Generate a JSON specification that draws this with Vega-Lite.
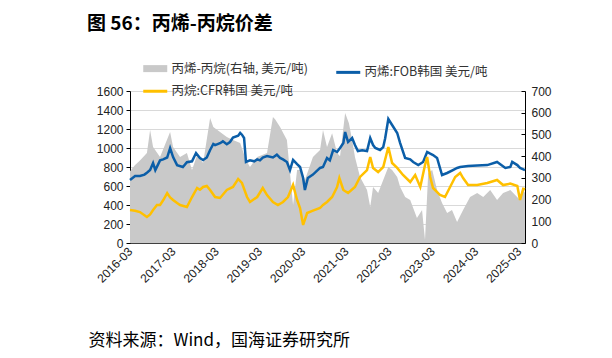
{
  "$schema": "https://vega.github.io/schema/vega-lite/v6.json",
  "width": 395,
  "height": 152,
  "autosize": {"type": "none"},
  "padding": {"left": 130, "top": 91, "right": 87, "bottom": 115},
  "background": "white",
  "title": {
    "text": "图 56：丙烯-丙烷价差",
    "anchor": "start",
    "frame": "group",
    "dx": -43,
    "offset": 28,
    "font": "Noto Sans CJK SC",
    "fontSize": 19,
    "fontWeight": "bold",
    "color": "#000000"
  },
  "config": {
    "view": {"stroke": null},
    "font": "Liberation Sans"
  },
  "datasets": {
    "lines": [
      {"d": "2016-03-01", "s": "丙烯:FOB韩国 美元/吨", "v": 663},
      {"d": "2016-04-13", "s": "丙烯:FOB韩国 美元/吨", "v": 705},
      {"d": "2016-05-24", "s": "丙烯:FOB韩国 美元/吨", "v": 705},
      {"d": "2016-07-01", "s": "丙烯:FOB韩国 美元/吨", "v": 720},
      {"d": "2016-07-22", "s": "丙烯:FOB韩国 美元/吨", "v": 740},
      {"d": "2016-08-18", "s": "丙烯:FOB韩国 美元/吨", "v": 768},
      {"d": "2016-09-12", "s": "丙烯:FOB韩国 美元/吨", "v": 842},
      {"d": "2016-10-01", "s": "丙烯:FOB韩国 美元/吨", "v": 768},
      {"d": "2016-11-10", "s": "丙烯:FOB韩国 美元/吨", "v": 870},
      {"d": "2016-12-06", "s": "丙烯:FOB韩国 美元/吨", "v": 880},
      {"d": "2017-01-09", "s": "丙烯:FOB韩国 美元/吨", "v": 900},
      {"d": "2017-02-03", "s": "丙烯:FOB韩国 美元/吨", "v": 1000},
      {"d": "2017-02-28", "s": "丙烯:FOB韩国 美元/吨", "v": 905},
      {"d": "2017-04-03", "s": "丙烯:FOB韩国 美元/吨", "v": 820},
      {"d": "2017-05-22", "s": "丙烯:FOB韩国 美元/吨", "v": 800},
      {"d": "2017-06-25", "s": "丙烯:FOB韩国 美元/吨", "v": 850},
      {"d": "2017-08-07", "s": "丙烯:FOB韩国 美元/吨", "v": 860},
      {"d": "2017-09-10", "s": "丙烯:FOB韩国 美元/吨", "v": 947},
      {"d": "2017-10-13", "s": "丙烯:FOB韩国 美元/吨", "v": 895},
      {"d": "2017-11-09", "s": "丙烯:FOB韩国 美元/吨", "v": 874},
      {"d": "2017-12-10", "s": "丙烯:FOB韩国 美元/吨", "v": 900},
      {"d": "2018-01-07", "s": "丙烯:FOB韩国 美元/吨", "v": 979},
      {"d": "2018-02-03", "s": "丙烯:FOB韩国 美元/吨", "v": 1042},
      {"d": "2018-02-18", "s": "丙烯:FOB韩国 美元/吨", "v": 1030},
      {"d": "2018-04-01", "s": "丙烯:FOB韩国 美元/吨", "v": 1050},
      {"d": "2018-04-25", "s": "丙烯:FOB韩国 美元/吨", "v": 1070},
      {"d": "2018-05-28", "s": "丙烯:FOB韩国 美元/吨", "v": 1040},
      {"d": "2018-06-24", "s": "丙烯:FOB韩国 美元/吨", "v": 1063},
      {"d": "2018-07-19", "s": "丙烯:FOB韩国 美元/吨", "v": 1110},
      {"d": "2018-09-01", "s": "丙烯:FOB韩国 美元/吨", "v": 1130},
      {"d": "2018-09-18", "s": "丙烯:FOB韩国 美元/吨", "v": 1158},
      {"d": "2018-10-03", "s": "丙烯:FOB韩国 美元/吨", "v": 1140},
      {"d": "2018-10-21", "s": "丙烯:FOB韩国 美元/吨", "v": 1105},
      {"d": "2018-11-06", "s": "丙烯:FOB韩国 美元/吨", "v": 853},
      {"d": "2018-12-10", "s": "丙烯:FOB韩国 美元/吨", "v": 870},
      {"d": "2019-01-15", "s": "丙烯:FOB韩国 美元/吨", "v": 860},
      {"d": "2019-02-09", "s": "丙烯:FOB韩国 美元/吨", "v": 880},
      {"d": "2019-03-04", "s": "丙烯:FOB韩国 美元/吨", "v": 870},
      {"d": "2019-03-28", "s": "丙烯:FOB韩国 美元/吨", "v": 900},
      {"d": "2019-05-03", "s": "丙烯:FOB韩国 美元/吨", "v": 915},
      {"d": "2019-06-22", "s": "丙烯:FOB韩国 美元/吨", "v": 900},
      {"d": "2019-07-25", "s": "丙烯:FOB韩国 美元/吨", "v": 930},
      {"d": "2019-08-21", "s": "丙烯:FOB韩国 美元/吨", "v": 895},
      {"d": "2019-09-15", "s": "丙烯:FOB韩国 美元/吨", "v": 880},
      {"d": "2019-10-18", "s": "丙烯:FOB韩国 美元/吨", "v": 853},
      {"d": "2019-11-13", "s": "丙烯:FOB韩国 美元/吨", "v": 768},
      {"d": "2019-12-09", "s": "丙烯:FOB韩国 美元/吨", "v": 874},
      {"d": "2020-01-12", "s": "丙烯:FOB韩国 美元/吨", "v": 830},
      {"d": "2020-02-06", "s": "丙烯:FOB韩国 美元/吨", "v": 800},
      {"d": "2020-03-03", "s": "丙烯:FOB韩国 美元/吨", "v": 684},
      {"d": "2020-03-18", "s": "丙烯:FOB韩国 美元/吨", "v": 558},
      {"d": "2020-04-12", "s": "丙烯:FOB韩国 美元/吨", "v": 684},
      {"d": "2020-05-25", "s": "丙烯:FOB韩国 美元/吨", "v": 720},
      {"d": "2020-07-24", "s": "丙烯:FOB韩国 美元/吨", "v": 790},
      {"d": "2020-08-18", "s": "丙烯:FOB韩国 美元/吨", "v": 800},
      {"d": "2020-09-21", "s": "丙烯:FOB韩国 美元/吨", "v": 895},
      {"d": "2020-10-15", "s": "丙烯:FOB韩国 美元/吨", "v": 870},
      {"d": "2020-11-12", "s": "丙烯:FOB韩国 美元/吨", "v": 979},
      {"d": "2020-12-15", "s": "丙烯:FOB韩国 美元/吨", "v": 958},
      {"d": "2021-01-09", "s": "丙烯:FOB韩国 美元/吨", "v": 1000},
      {"d": "2021-02-06", "s": "丙烯:FOB韩国 美元/吨", "v": 1052},
      {"d": "2021-02-21", "s": "丙烯:FOB韩国 美元/吨", "v": 1168},
      {"d": "2021-03-18", "s": "丙烯:FOB韩国 美元/吨", "v": 1063},
      {"d": "2021-04-21", "s": "丙烯:FOB韩国 美元/吨", "v": 1105},
      {"d": "2021-05-15", "s": "丙烯:FOB韩国 美元/吨", "v": 1031},
      {"d": "2021-06-09", "s": "丙烯:FOB韩国 美元/吨", "v": 968},
      {"d": "2021-07-15", "s": "丙烯:FOB韩国 美元/吨", "v": 975},
      {"d": "2021-08-25", "s": "丙烯:FOB韩国 美元/吨", "v": 968},
      {"d": "2021-09-21", "s": "丙烯:FOB韩国 美元/吨", "v": 1105},
      {"d": "2021-10-15", "s": "丙烯:FOB韩国 美元/吨", "v": 1031},
      {"d": "2021-11-03", "s": "丙烯:FOB韩国 美元/吨", "v": 1000},
      {"d": "2021-12-13", "s": "丙烯:FOB韩国 美元/吨", "v": 979},
      {"d": "2022-01-09", "s": "丙烯:FOB韩国 美元/吨", "v": 1010},
      {"d": "2022-01-25", "s": "丙烯:FOB韩国 美元/吨", "v": 1100},
      {"d": "2022-02-21", "s": "丙烯:FOB韩国 美元/吨", "v": 1305},
      {"d": "2022-03-25", "s": "丙烯:FOB韩国 美元/吨", "v": 1242},
      {"d": "2022-05-07", "s": "丙烯:FOB韩国 美元/吨", "v": 1158},
      {"d": "2022-06-01", "s": "丙烯:FOB韩国 美元/吨", "v": 1052},
      {"d": "2022-07-13", "s": "丙烯:FOB韩国 美元/吨", "v": 895},
      {"d": "2022-08-25", "s": "丙烯:FOB韩国 美元/吨", "v": 880},
      {"d": "2022-09-19", "s": "丙烯:FOB韩国 美元/吨", "v": 853},
      {"d": "2022-11-01", "s": "丙烯:FOB韩国 美元/吨", "v": 821},
      {"d": "2022-12-12", "s": "丙烯:FOB韩国 美元/吨", "v": 853},
      {"d": "2023-01-15", "s": "丙烯:FOB韩国 美元/吨", "v": 958},
      {"d": "2023-02-10", "s": "丙烯:FOB韩国 美元/吨", "v": 940},
      {"d": "2023-03-06", "s": "丙烯:FOB韩国 美元/吨", "v": 926},
      {"d": "2023-04-09", "s": "丙烯:FOB韩国 美元/吨", "v": 895},
      {"d": "2023-05-21", "s": "丙烯:FOB韩国 美元/吨", "v": 716},
      {"d": "2023-07-03", "s": "丙烯:FOB韩国 美元/吨", "v": 737},
      {"d": "2023-08-21", "s": "丙烯:FOB韩国 美元/吨", "v": 768},
      {"d": "2023-09-25", "s": "丙烯:FOB韩国 美元/吨", "v": 790},
      {"d": "2023-10-21", "s": "丙烯:FOB韩国 美元/吨", "v": 800},
      {"d": "2023-12-27", "s": "丙烯:FOB韩国 美元/吨", "v": 810},
      {"d": "2024-03-13", "s": "丙烯:FOB韩国 美元/吨", "v": 815},
      {"d": "2024-06-06", "s": "丙烯:FOB韩国 美元/吨", "v": 820},
      {"d": "2024-08-28", "s": "丙烯:FOB韩国 美元/吨", "v": 853},
      {"d": "2024-09-24", "s": "丙烯:FOB韩国 美元/吨", "v": 830},
      {"d": "2024-11-06", "s": "丙烯:FOB韩国 美元/吨", "v": 790},
      {"d": "2024-12-18", "s": "丙烯:FOB韩国 美元/吨", "v": 800},
      {"d": "2025-01-03", "s": "丙烯:FOB韩国 美元/吨", "v": 853},
      {"d": "2025-02-15", "s": "丙烯:FOB韩国 美元/吨", "v": 820},
      {"d": "2025-03-10", "s": "丙烯:FOB韩国 美元/吨", "v": 790},
      {"d": "2025-04-21", "s": "丙烯:FOB韩国 美元/吨", "v": 768},
      {"d": "2016-03-01", "s": "丙烷:CFR韩国 美元/吨", "v": 347},
      {"d": "2016-04-13", "s": "丙烷:CFR韩国 美元/吨", "v": 340},
      {"d": "2016-05-24", "s": "丙烷:CFR韩国 美元/吨", "v": 326},
      {"d": "2016-07-22", "s": "丙烷:CFR韩国 美元/吨", "v": 274},
      {"d": "2016-08-18", "s": "丙烷:CFR韩国 美元/吨", "v": 300},
      {"d": "2016-09-12", "s": "丙烷:CFR韩国 美元/吨", "v": 347},
      {"d": "2016-10-15", "s": "丙烷:CFR韩国 美元/吨", "v": 400},
      {"d": "2016-11-10", "s": "丙烷:CFR韩国 美元/吨", "v": 400},
      {"d": "2016-12-06", "s": "丙烷:CFR韩国 美元/吨", "v": 450},
      {"d": "2017-01-09", "s": "丙烷:CFR韩国 美元/吨", "v": 526},
      {"d": "2017-02-03", "s": "丙烷:CFR韩国 美元/吨", "v": 480},
      {"d": "2017-02-28", "s": "丙烷:CFR韩国 美元/吨", "v": 453},
      {"d": "2017-04-03", "s": "丙烷:CFR韩国 美元/吨", "v": 420},
      {"d": "2017-04-28", "s": "丙烷:CFR韩国 美元/吨", "v": 400},
      {"d": "2017-06-25", "s": "丙烷:CFR韩国 美元/吨", "v": 379},
      {"d": "2017-08-07", "s": "丙烷:CFR韩国 美元/吨", "v": 484},
      {"d": "2017-09-19", "s": "丙烷:CFR韩国 美元/吨", "v": 579},
      {"d": "2017-10-13", "s": "丙烷:CFR韩国 美元/吨", "v": 560},
      {"d": "2017-11-09", "s": "丙烷:CFR韩国 美元/吨", "v": 590},
      {"d": "2017-12-10", "s": "丙烷:CFR韩国 美元/吨", "v": 600},
      {"d": "2018-01-07", "s": "丙烷:CFR韩国 美元/吨", "v": 558},
      {"d": "2018-02-18", "s": "丙烷:CFR韩国 美元/吨", "v": 484},
      {"d": "2018-04-01", "s": "丙烷:CFR韩国 美元/吨", "v": 474},
      {"d": "2018-05-28", "s": "丙烷:CFR韩国 美元/吨", "v": 558},
      {"d": "2018-07-19", "s": "丙烷:CFR韩国 美元/吨", "v": 590},
      {"d": "2018-09-01", "s": "丙烷:CFR韩国 美元/吨", "v": 674},
      {"d": "2018-10-03", "s": "丙烷:CFR韩国 美元/吨", "v": 632},
      {"d": "2018-11-15", "s": "丙烷:CFR韩国 美元/吨", "v": 484},
      {"d": "2018-12-10", "s": "丙烷:CFR韩国 美元/吨", "v": 432},
      {"d": "2019-02-09", "s": "丙烷:CFR韩国 美元/吨", "v": 484},
      {"d": "2019-03-28", "s": "丙烷:CFR韩国 美元/吨", "v": 579},
      {"d": "2019-05-03", "s": "丙烷:CFR韩国 美元/吨", "v": 505},
      {"d": "2019-06-22", "s": "丙烷:CFR韩国 美元/吨", "v": 432},
      {"d": "2019-08-03", "s": "丙烷:CFR韩国 美元/吨", "v": 400},
      {"d": "2019-09-15", "s": "丙烷:CFR韩国 美元/吨", "v": 432},
      {"d": "2019-10-27", "s": "丙烷:CFR韩国 美元/吨", "v": 484},
      {"d": "2019-12-09", "s": "丙烷:CFR韩国 美元/吨", "v": 611},
      {"d": "2020-01-12", "s": "丙烷:CFR韩国 美元/吨", "v": 453},
      {"d": "2020-02-06", "s": "丙烷:CFR韩国 美元/吨", "v": 368},
      {"d": "2020-03-03", "s": "丙烷:CFR韩国 美元/吨", "v": 190},
      {"d": "2020-04-06", "s": "丙烷:CFR韩国 美元/吨", "v": 316},
      {"d": "2020-05-25", "s": "丙烷:CFR韩国 美元/吨", "v": 340},
      {"d": "2020-07-24", "s": "丙烷:CFR韩国 美元/吨", "v": 368},
      {"d": "2020-08-18", "s": "丙烷:CFR韩国 美元/吨", "v": 400},
      {"d": "2020-09-21", "s": "丙烷:CFR韩国 美元/吨", "v": 432},
      {"d": "2020-11-03", "s": "丙烷:CFR韩国 美元/吨", "v": 484},
      {"d": "2020-12-15", "s": "丙烷:CFR韩国 美元/吨", "v": 590},
      {"d": "2021-01-03", "s": "丙烷:CFR韩国 美元/吨", "v": 684},
      {"d": "2021-02-06", "s": "丙烷:CFR韩国 美元/吨", "v": 558},
      {"d": "2021-03-18", "s": "丙烷:CFR韩国 美元/吨", "v": 526},
      {"d": "2021-05-15", "s": "丙烷:CFR韩国 美元/吨", "v": 590},
      {"d": "2021-06-27", "s": "丙烷:CFR韩国 美元/吨", "v": 695},
      {"d": "2021-08-25", "s": "丙烷:CFR韩国 美元/吨", "v": 768},
      {"d": "2021-09-21", "s": "丙烷:CFR韩国 美元/吨", "v": 905},
      {"d": "2021-10-15", "s": "丙烷:CFR韩国 美元/吨", "v": 790},
      {"d": "2021-11-27", "s": "丙烷:CFR韩国 美元/吨", "v": 747},
      {"d": "2022-01-09", "s": "丙烷:CFR韩国 美元/吨", "v": 800},
      {"d": "2022-02-21", "s": "丙烷:CFR韩国 美元/吨", "v": 1010},
      {"d": "2022-03-25", "s": "丙烷:CFR韩国 美元/吨", "v": 842},
      {"d": "2022-05-07", "s": "丙烷:CFR韩国 美元/吨", "v": 790},
      {"d": "2022-06-25", "s": "丙烷:CFR韩国 美元/吨", "v": 716},
      {"d": "2022-08-25", "s": "丙烷:CFR韩国 美元/吨", "v": 642},
      {"d": "2022-10-06", "s": "丙烷:CFR韩国 美元/吨", "v": 716},
      {"d": "2022-11-18", "s": "丙烷:CFR韩国 美元/吨", "v": 590},
      {"d": "2022-12-28", "s": "丙烷:CFR韩国 美元/吨", "v": 821},
      {"d": "2023-01-15", "s": "丙烷:CFR韩国 美元/吨", "v": 905},
      {"d": "2023-02-10", "s": "丙烷:CFR韩国 美元/吨", "v": 695},
      {"d": "2023-03-06", "s": "丙烷:CFR韩国 美元/吨", "v": 579},
      {"d": "2023-05-04", "s": "丙烷:CFR韩国 美元/吨", "v": 505},
      {"d": "2023-06-15", "s": "丙烷:CFR韩国 美元/吨", "v": 484},
      {"d": "2023-07-28", "s": "丙烷:CFR韩国 美元/吨", "v": 590},
      {"d": "2023-09-09", "s": "丙烷:CFR韩国 美元/吨", "v": 695},
      {"d": "2023-10-21", "s": "丙烷:CFR韩国 美元/吨", "v": 737},
      {"d": "2023-11-15", "s": "丙烷:CFR韩国 美元/吨", "v": 684},
      {"d": "2023-12-27", "s": "丙烷:CFR韩国 美元/吨", "v": 611},
      {"d": "2024-03-13", "s": "丙烷:CFR韩国 美元/吨", "v": 610},
      {"d": "2024-06-06", "s": "丙烷:CFR韩国 美元/吨", "v": 632},
      {"d": "2024-08-28", "s": "丙烷:CFR韩国 美元/吨", "v": 663},
      {"d": "2024-10-18", "s": "丙烷:CFR韩国 美元/吨", "v": 610},
      {"d": "2024-12-18", "s": "丙烷:CFR韩国 美元/吨", "v": 625},
      {"d": "2025-02-15", "s": "丙烷:CFR韩国 美元/吨", "v": 600},
      {"d": "2025-03-10", "s": "丙烷:CFR韩国 美元/吨", "v": 453},
      {"d": "2025-04-06", "s": "丙烷:CFR韩国 美元/吨", "v": 570},
      {"d": "2025-04-21", "s": "丙烷:CFR韩国 美元/吨", "v": 565}
    ],
    "spread": [
      {"d": "2016-03-01", "v": 330},
      {"d": "2016-04-13", "v": 359},
      {"d": "2016-05-24", "v": 380},
      {"d": "2016-07-22", "v": 414},
      {"d": "2016-08-18", "v": 520},
      {"d": "2016-09-12", "v": 442},
      {"d": "2016-11-10", "v": 396},
      {"d": "2017-02-03", "v": 511},
      {"d": "2017-02-28", "v": 442},
      {"d": "2017-04-28", "v": 396},
      {"d": "2017-06-25", "v": 414},
      {"d": "2017-08-07", "v": 336},
      {"d": "2017-09-19", "v": 405},
      {"d": "2017-11-09", "v": 368},
      {"d": "2018-01-07", "v": 576},
      {"d": "2018-02-03", "v": 534},
      {"d": "2018-04-01", "v": 511},
      {"d": "2018-05-28", "v": 488},
      {"d": "2018-07-19", "v": 474},
      {"d": "2018-09-18", "v": 460},
      {"d": "2018-11-06", "v": 382},
      {"d": "2018-12-10", "v": 350},
      {"d": "2019-02-09", "v": 396},
      {"d": "2019-05-03", "v": 414},
      {"d": "2019-06-22", "v": 580},
      {"d": "2019-07-10", "v": 570},
      {"d": "2019-08-21", "v": 534},
      {"d": "2019-10-18", "v": 474},
      {"d": "2019-11-13", "v": 322},
      {"d": "2019-12-09", "v": 175},
      {"d": "2020-01-12", "v": 336},
      {"d": "2020-02-15", "v": 336},
      {"d": "2020-03-18", "v": 290},
      {"d": "2020-05-25", "v": 396},
      {"d": "2020-07-24", "v": 428},
      {"d": "2020-08-18", "v": 520},
      {"d": "2020-09-21", "v": 442},
      {"d": "2020-11-03", "v": 506},
      {"d": "2020-12-15", "v": 414},
      {"d": "2021-01-09", "v": 400},
      {"d": "2021-02-21", "v": 599},
      {"d": "2021-03-25", "v": 552},
      {"d": "2021-04-21", "v": 474},
      {"d": "2021-05-15", "v": 396},
      {"d": "2021-06-27", "v": 304},
      {"d": "2021-08-25", "v": 244},
      {"d": "2021-09-21", "v": 166},
      {"d": "2021-10-15", "v": 258},
      {"d": "2021-11-27", "v": 230},
      {"d": "2022-01-09", "v": 290},
      {"d": "2022-02-21", "v": 350},
      {"d": "2022-03-25", "v": 336},
      {"d": "2022-05-07", "v": 304},
      {"d": "2022-06-01", "v": 258},
      {"d": "2022-07-13", "v": 212},
      {"d": "2022-08-25", "v": 198},
      {"d": "2022-10-21", "v": 115},
      {"d": "2022-12-03", "v": 152},
      {"d": "2022-12-28", "v": 14},
      {"d": "2023-01-24", "v": 322},
      {"d": "2023-02-27", "v": 336},
      {"d": "2023-04-09", "v": 244},
      {"d": "2023-05-21", "v": 184},
      {"d": "2023-07-03", "v": 138},
      {"d": "2023-08-13", "v": 152},
      {"d": "2023-09-25", "v": 97},
      {"d": "2023-11-15", "v": 152},
      {"d": "2024-01-13", "v": 212},
      {"d": "2024-03-13", "v": 230},
      {"d": "2024-05-03", "v": 212},
      {"d": "2024-07-01", "v": 244},
      {"d": "2024-08-28", "v": 198},
      {"d": "2024-10-18", "v": 230},
      {"d": "2024-12-18", "v": 244},
      {"d": "2025-01-28", "v": 221},
      {"d": "2025-03-10", "v": 198},
      {"d": "2025-04-06", "v": 244},
      {"d": "2025-04-21", "v": 230}
    ]
  },
  "encoding": {
    "x": {
      "field": "d",
      "type": "temporal",
      "scale": {"domain": ["2016-03-01", "2025-04-21"]},
      "axis": {
        "values": ["2016-03-01", "2017-03-01", "2018-03-01", "2019-03-01", "2020-03-01", "2021-03-01", "2022-03-01", "2023-03-01", "2024-03-01", "2025-03-01"],
        "format": "%Y-%m",
        "labelAngle": -45,
        "labelAlign": "right",
        "labelBaseline": "middle",
        "labelPadding": 10,
        "labelFontSize": 12,
        "labelColor": "#222222",
        "labelFont": "Liberation Sans",
        "tickSize": -4,
        "tickColor": "#404040",
        "domainColor": "#404040",
        "grid": false,
        "labelOverlap": false,
        "title": "资料来源：Wind，国海证券研究所",
        "titleFont": "Noto Sans CJK SC",
        "titleFontSize": 17,
        "titleFontWeight": "normal",
        "titleColor": "#000000",
        "titleAlign": "left",
        "titleAnchor": "start",
        "titleBaseline": "middle",
        "titleX": -42,
        "titleY": 97
      }
    }
  },
  "layer": [
    {
      "data": {"name": "spread"},
      "mark": {"type": "area", "interpolate": "linear"},
      "encoding": {
        "y": {
          "field": "v",
          "type": "quantitative",
          "scale": {"domain": [0, 700], "nice": false},
          "axis": {
            "orient": "right",
            "values": [0, 100, 200, 300, 400, 500, 600, 700],
            "tickSize": -4,
            "tickColor": "#000000",
            "domainColor": "#000000",
            "labelPadding": 10,
            "labelFontSize": 12,
            "labelColor": "#222222",
            "labelFont": "Liberation Sans",
            "grid": false,
            "title": null
          }
        },
        "color": {
          "datum": "丙烯-丙烷(右轴, 美元/吨)",
          "type": "nominal",
          "title": null,
          "scale": {
            "domain": ["丙烯-丙烷(右轴, 美元/吨)", "丙烯:FOB韩国 美元/吨", "丙烷:CFR韩国 美元/吨"],
            "range": ["#c9c9c9", "#0b5ea8", "#ffc000"]
          },
          "legend": {
            "orient": "none",
            "direction": "horizontal",
            "legendX": 19,
            "legendY": -29,
            "columns": 2,
            "columnPadding": 22,
            "rowPadding": 2,
            "padding": 0,
            "symbolType": "M-1.5,0H1.5",
            "symbolSize": 256,
            "symbolStrokeWidth": 3,
            "labelFont": "Noto Sans CJK SC",
            "labelFontSize": 12.5,
            "labelColor": "#333333",
            "labelOffset": 10,
            "title": null,
            "encode": {
              "symbols": {
                "update": {
                  "strokeWidth": {"signal": "datum.value === '丙烯-丙烷(右轴, 美元/吨)' ? 7 : 3"},
                  "stroke": {"scale": "color", "field": "value"},
                  "fill": {"value": "transparent"},
                  "opacity": {"value": 1}
                }
              }
            }
          }
        }
      }
    },
    {
      "data": {"name": "lines"},
      "mark": {"type": "line", "strokeWidth": 2.5, "interpolate": "linear"},
      "encoding": {
        "y": {
          "field": "v",
          "type": "quantitative",
          "scale": {"domain": [0, 1600], "nice": false},
          "axis": {
            "orient": "left",
            "values": [0, 200, 400, 600, 800, 1000, 1200, 1400, 1600],
            "format": "d",
            "tickSize": 4,
            "tickColor": "#000000",
            "domainColor": "#000000",
            "labelPadding": 3,
            "labelFontSize": 12,
            "labelColor": "#222222",
            "labelFont": "Liberation Sans",
            "grid": true,
            "gridColor": "#d9d9d9",
            "title": null
          }
        },
        "color": {
          "field": "s",
          "type": "nominal",
          "title": null,
          "scale": {
            "domain": ["丙烯-丙烷(右轴, 美元/吨)", "丙烯:FOB韩国 美元/吨", "丙烷:CFR韩国 美元/吨"],
            "range": ["#c9c9c9", "#0b5ea8", "#ffc000"]
          },
          "legend": {
            "orient": "none",
            "direction": "horizontal",
            "legendX": 19,
            "legendY": -29,
            "columns": 2,
            "columnPadding": 22,
            "rowPadding": 2,
            "padding": 0,
            "symbolType": "M-1.5,0H1.5",
            "symbolSize": 256,
            "symbolStrokeWidth": 3,
            "labelFont": "Noto Sans CJK SC",
            "labelFontSize": 12.5,
            "labelColor": "#333333",
            "labelOffset": 10,
            "title": null,
            "encode": {
              "symbols": {
                "update": {
                  "strokeWidth": {"signal": "datum.value === '丙烯-丙烷(右轴, 美元/吨)' ? 7 : 3"},
                  "stroke": {"scale": "color", "field": "value"},
                  "fill": {"value": "transparent"},
                  "opacity": {"value": 1}
                }
              }
            }
          }
        }
      }
    }
  ],
  "resolve": {"scale": {"y": "independent"}}
}
